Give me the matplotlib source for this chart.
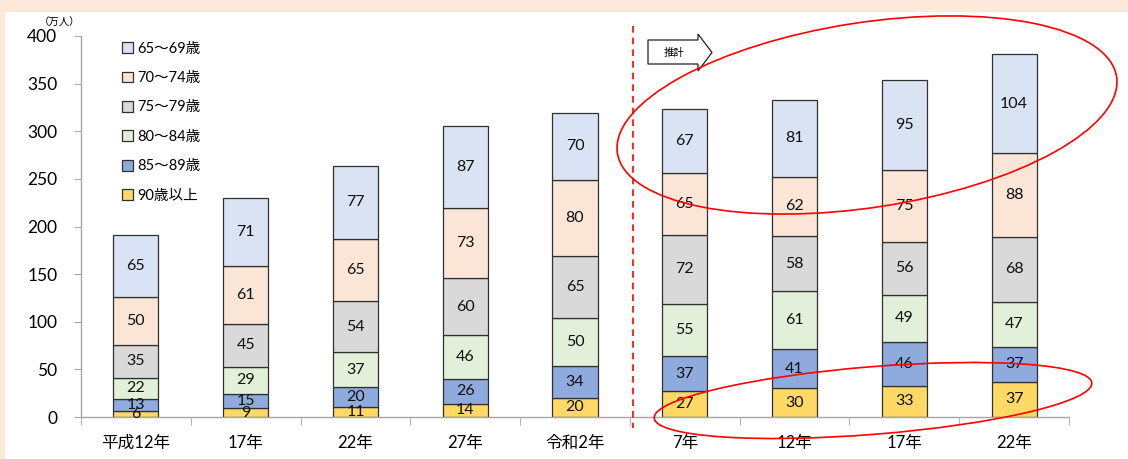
import numpy as np
import matplotlib.pyplot as plt
from matplotlib.patches import Ellipse, Polygon, Rectangle
from matplotlib.lines import Line2D

plt.rcParams['font.family'] = ['Lato', 'Noto Sans CJK JP', 'DejaVu Sans']

years = ['平成12年', '17年', '22年', '27年', '令和2年', '7年', '12年', '17年', '22年']
groups = ['90歳以上', '85～89歳', '80～84歳', '75～79歳', '70～74歳', '65～69歳']
v90 = [6, 9, 11, 14, 20, 27, 30, 33, 37]
v85 = [13, 15, 20, 26, 34, 37, 41, 46, 37]
v80 = [22, 29, 37, 46, 50, 55, 61, 49, 47]
v75 = [35, 45, 54, 60, 65, 72, 58, 56, 68]
v70 = [50, 61, 65, 73, 80, 65, 62, 75, 88]
v65 = [65, 71, 77, 87, 70, 67, 81, 95, 104]
cols = ['#FFD966', '#8FAADC', '#E2F0D9', '#D9D9D9', '#FBE5D6', '#DAE3F3']

W, H = 1128, 459
fig = plt.figure(figsize=(W / 100, H / 100), dpi=100)
fig.patch.set_facecolor('#FCE9DA')
fig.patches.append(Rectangle((5 / W, 0), 1 - 5 / W, 1 - 12 / H, transform=fig.transFigure,
                             facecolor='white', edgecolor='none', zorder=-10))

ax = fig.add_axes([81 / W, 1 - 417 / H, (1069 - 81) / W, (417 - 36) / H])
ax.set_facecolor('none')

x = np.arange(len(years))
bottom = np.zeros(len(years))
handles = []
for vals, c, g in zip([v90, v85, v80, v75, v70, v65], cols, groups):
    vals = np.array(vals)
    bars = ax.bar(x, vals, 0.41, bottom=bottom, color=c, edgecolor='#303030', linewidth=0.9, label=g)
    for xi, b, v in zip(x, bottom, vals):
        ax.text(xi, b + v / 2, str(v), ha='center', va='center', fontsize=11.5, color='#111111')
    bottom = bottom + vals
    handles.append(bars)

ax.set_xlim(-0.5, len(years) - 0.5)
ax.set_ylim(0, 400)
ax.set_yticks(range(0, 401, 50))
ax.set_xticks(x)
ax.set_xticklabels(years, fontsize=12)
ax.set_xticks(np.arange(-0.5, len(years)), minor=True)
ax.tick_params(axis='x', which='major', length=0, pad=13)
ax.tick_params(axis='x', which='minor', length=6, color='#A6A6A6')
ax.tick_params(axis='y', length=5, color='#A6A6A6', labelsize=12.5, pad=12)
for s in ['top', 'right']:
    ax.spines[s].set_visible(False)
for s in ['left', 'bottom']:
    ax.spines[s].set_color('#A6A6A6')
    ax.spines[s].set_linewidth(1)

leg = ax.legend(handles[::-1], groups[::-1], loc='upper left', bbox_to_anchor=(0.028, 1.02),
                frameon=False, fontsize=10.5, handlelength=0.75, handleheight=0.75,
                handletextpad=0.3, labelspacing=1.06)
for p in leg.get_patches():
    p.set_edgecolor('#303030')

fig.text(60 / W, 1 - 23 / H, '（万人）', fontsize=7.5, ha='center', va='center')

# projection divider
fig.add_artist(Line2D([633 / W, 633 / W], [1 - 26 / H, 1 - 428 / H], transform=fig.transFigure,
                      color='#FF0000', linestyle=(0, (4, 3)), linewidth=1.2))

# arrow "推計"
pts = [(648, 40), (698, 40), (698, 34), (712, 52.5), (698, 71), (698, 64), (648, 64)]
fig.patches.append(Polygon([(px / W, 1 - py / H) for px, py in pts], closed=True,
                           transform=fig.transFigure, facecolor='white', edgecolor='#222222', lw=0.9))
fig.text(674 / W, 1 - 53 / H, '推計', fontsize=7.5, ha='center', va='center')

# red ellipses (pixel space)
def ell(cx, cy, w, h, ang):
    e = Ellipse((cx, H - cy), w, h, angle=ang, fill=False, edgecolor='#FF0000', lw=1.2,
                transform=None, zorder=10)
    fig.add_artist(e)

ell(867, 115, 505, 185, 8.7)
ell(873, 400.5, 439, 67.6, 4.6)

fig.savefig('out.png', dpi=100)
